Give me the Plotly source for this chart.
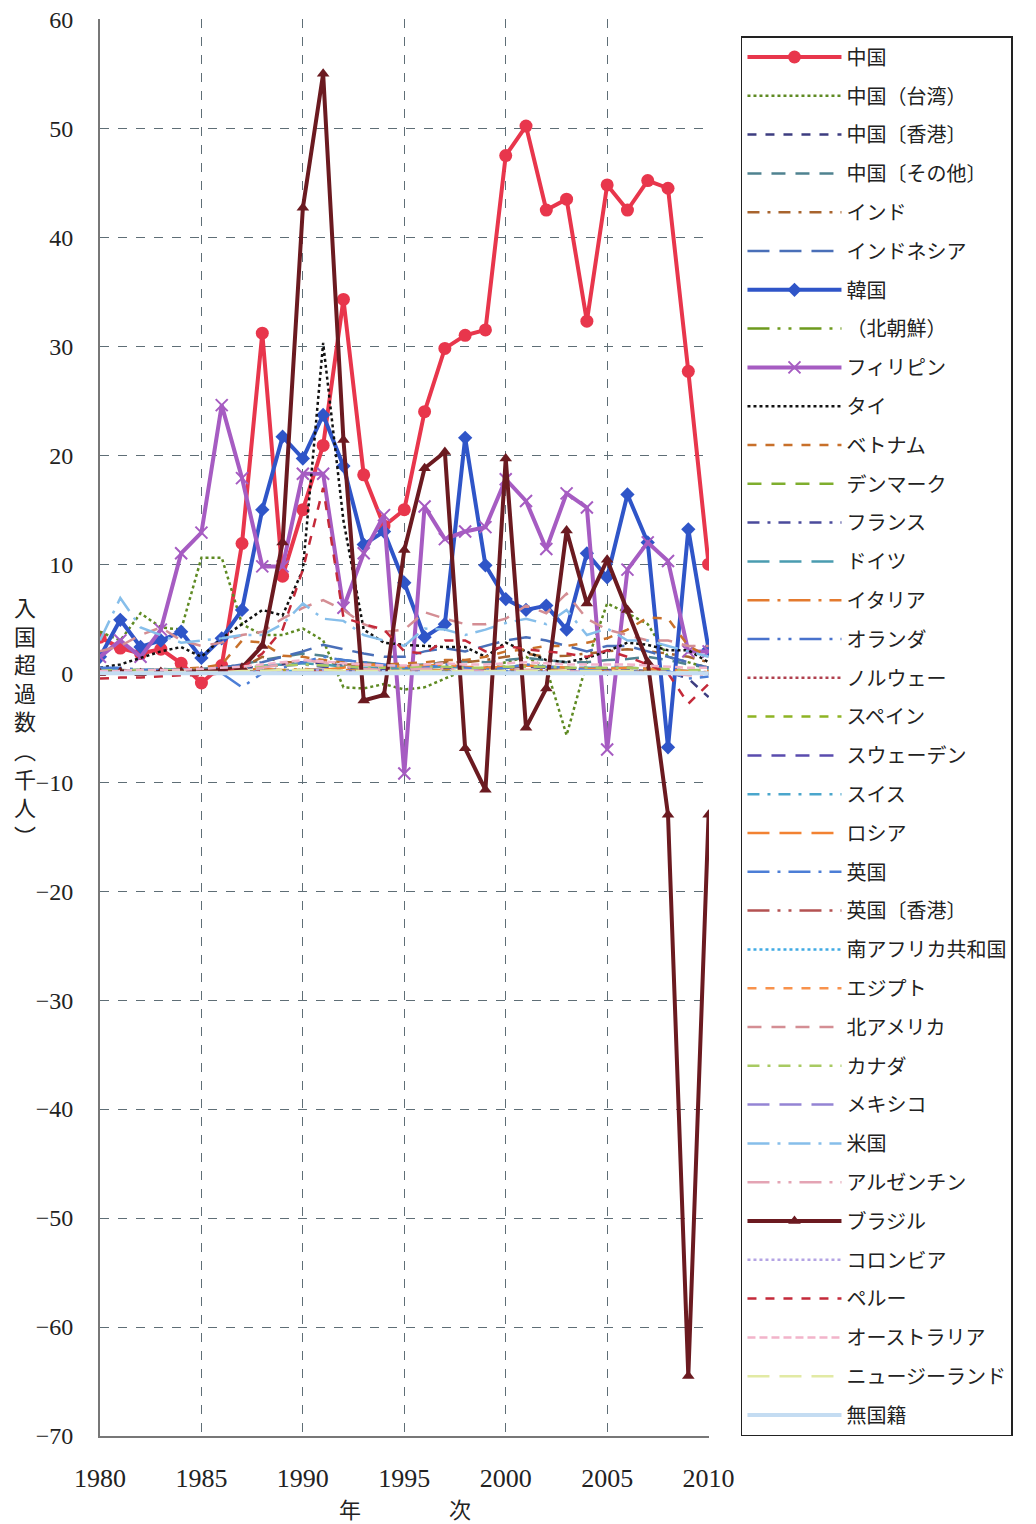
import plotly.graph_objects as go

years = list(range(1980, 2011))

names = ["中国", "中国（台湾）", "中国〔香港〕", "中国〔その他〕", "インド", "インドネシア", "韓国", "（北朝鮮）",
         "フィリピン", "タイ", "ベトナム", "デンマーク", "フランス", "ドイツ", "イタリア", "オランダ", "ノルウェー",
         "スペイン", "スウェーデン", "スイス", "ロシア", "英国", "英国〔香港〕", "南アフリカ共和国", "エジプト",
         "北アメリカ", "カナダ", "メキシコ", "米国", "アルゼンチン", "ブラジル", "コロンビア", "ペルー",
         "オーストラリア", "ニュージーランド", "無国籍"]

china = [3.3, 2.3, 1.8, 2.2, 0.9, -0.9, 0.7, 11.9, 31.2, 8.9, 15.0, 20.9, 34.3, 18.2, 13.5, 15.0, 24.0, 29.8, 31.0, 31.5,
         47.5, 50.2, 42.5, 43.5, 32.3, 44.8, 42.5, 45.2, 44.5, 27.7, 10.0]
taiwan = [3.8, 3.0, 5.5, 4.2, 4.0, 10.6, 10.6, 4.5, 3.5, 3.5, 4.1, 3.0, -1.3, -1.4, -1.0, -1.5, -1.3, -0.5, 0.3, 0.5,
          1.0, 1.5, 0.5, -5.7, 1.0, 6.4, 5.5, 4.5, 1.5, 1.0, 0.5]
hongkong = [0.3, 0.3, 0.2, 0.3, 0.2, 0.2, 0.3, 0.5, 0.6, 0.8, 1.0, 0.9, 0.7, 0.5, 0.4, 0.5, 0.6, 0.5, 0.4, 0.3,
            0.5, 0.6, 0.5, 0.4, 0.4, 0.3, 0.3, 0.2, 0.1, -0.5, -2.2]
china_other = [0.2, 0.2, 0.3, 0.3, 0.3, 0.4, 0.5, 0.8, 1.2, 1.5, 1.8, 1.6, 1.2, 1.0, 0.8, 0.7, 0.8, 1.0, 1.1, 1.0,
               1.2, 1.4, 1.2, 1.0, 1.0, 1.2, 1.3, 1.5, 1.2, 0.8, 0.5]
india = [0.1, 0.1, 0.1, 0.1, 0.2, 0.2, 0.3, 0.5, 1.5, 1.0, 1.0, 1.2, 0.8, 0.8, 0.7, 0.6, 0.8, 1.0, 1.0, 1.2,
         1.5, 1.8, 1.5, 1.6, 1.8, 2.0, 2.2, 2.0, 1.8, 1.5, 1.0]
indonesia = [0.2, 0.2, 0.3, 0.2, 0.3, 0.3, 0.5, 0.8, 1.0, 1.5, 2.0, 2.6, 2.2, 1.8, 1.5, 1.5, 2.0, 2.3, 2.0, 2.5,
             3.0, 3.3, 3.0, 2.5, 2.0, 2.5, 2.5, 2.0, 1.5, 1.0, 0.5]
korea = [1.5, 4.9, 2.4, 3.0, 3.8, 1.4, 3.2, 5.8, 15.0, 21.7, 19.7, 23.7, 19.0, 11.8, 13.0, 8.3, 3.3, 4.5, 21.6, 9.9,
         6.8, 5.8, 6.2, 4.0, 11.0, 8.8, 16.4, 12.0, -6.8, 13.2, 2.2]
north_korea = [0.1, 0.1, 0.1, 0.0, 0.1, 0.1, 0.1, 0.2, 0.2, 0.3, 0.3, 0.2, 0.2, 0.1, 0.1, 0.1, 0.1, 0.1, 0.0, 0.0,
               0.1, 0.1, 0.0, 0.0, 0.1, 0.0, 0.0, 0.0, 0.0, 0.0, 0.0]
philippines = [1.5, 3.0, 1.5, 4.0, 11.0, 12.9, 24.6, 17.9, 9.8, 9.8, 18.3, 18.3, 6.0, 11.0, 14.5, -9.2, 15.3, 12.3,
               13.0, 13.4, 17.8, 15.8, 11.4, 16.5, 15.2, -7.0, 9.5, 12.0, 10.3, 2.0, 2.0]
thailand = [0.5, 0.8, 1.4, 2.0, 2.4, 1.5, 3.2, 4.5, 5.8, 5.3, 9.5, 30.3, 14.0, 4.0, 2.8, 2.6, 2.5, 2.4, 2.4, 1.5,
            2.8, 2.0, 1.2, 1.0, 1.4, 2.0, 2.8, 2.6, 2.1, 2.1, 1.0]
vietnam = [0.2, 0.2, 0.3, 0.3, 0.4, 0.5, 0.8, 3.0, 2.8, 1.6, 1.5, 1.2, 1.0, 0.8, 0.8, 0.9, 1.0, 1.2, 1.2, 1.5,
           2.0, 2.2, 2.5, 2.5, 2.8, 3.2, 4.0, 5.1, 5.0, 2.5, 1.5]
denmark = [0.0, 0.0, 0.1, 0.0, 0.0, 0.1, 0.0, 0.1, 0.1, 0.1, 0.1, 0.1, 0.0, 0.0, 0.1, 0.0, 0.0, 0.1, 0.0, 0.0,
           0.1, 0.0, 0.0, 0.0, 0.1, 0.0, 0.0, 0.0, 0.0, 0.0, 0.0]
france = [0.2, 0.2, 0.2, 0.3, 0.2, 0.3, 0.4, 0.5, 0.6, 0.7, 0.8, 0.6, 0.5, 0.4, 0.4, 0.3, 0.4, 0.5, 0.4, 0.4,
          0.5, 0.6, 0.5, 0.5, 0.4, 0.4, 0.5, 0.4, 0.3, 0.2, 0.2]
germany = [0.3, 0.3, 0.3, 0.4, 0.3, 0.3, 0.4, 0.6, 0.7, 0.8, 0.9, 0.8, 0.6, 0.5, 0.5, 0.4, 0.5, 0.6, 0.5, 0.5,
           0.6, 0.7, 0.6, 0.5, 0.5, 0.5, 0.5, 0.4, 0.3, 0.2, 0.3]
italy = [0.1, 0.1, 0.1, 0.1, 0.1, 0.2, 0.2, 0.3, 0.4, 0.3, 0.4, 0.3, 0.3, 0.2, 0.2, 0.2, 0.3, 0.3, 0.3, 0.2,
         0.3, 0.3, 0.3, 0.2, 0.2, 0.2, 0.2, 0.1, 0.1, 0.1, 0.1]
netherlands = [0.1, 0.1, 0.1, 0.1, 0.1, 0.1, 0.1, 0.2, 0.2, 0.2, 0.3, 0.3, 0.2, 0.2, 0.2, 0.1, 0.2, 0.2, 0.2, 0.1,
               0.2, 0.2, 0.2, 0.1, 0.1, 0.1, 0.1, 0.1, 0.1, 0.0, 0.1]
norway = [0.0, 0.0, 0.0, 0.1, 0.0, 0.0, 0.1, 0.1, 0.1, 0.1, 0.1, 0.1, 0.1, 0.0, 0.0, 0.0, 0.1, 0.0, 0.0, 0.0,
          0.1, 0.0, 0.0, 0.0, 0.0, 0.0, 0.0, 0.0, 0.0, 0.0, 0.0]
spain = [0.0, 0.1, 0.1, 0.0, 0.1, 0.1, 0.1, 0.2, 0.2, 0.2, 0.3, 0.2, 0.2, 0.1, 0.1, 0.1, 0.2, 0.2, 0.1, 0.1,
         0.2, 0.2, 0.2, 0.1, 0.1, 0.1, 0.1, 0.1, 0.0, 0.0, 0.1]
sweden = [0.0, 0.0, 0.1, 0.0, 0.0, 0.1, 0.1, 0.1, 0.1, 0.2, 0.2, 0.1, 0.1, 0.1, 0.1, 0.0, 0.1, 0.1, 0.1, 0.0,
          0.1, 0.1, 0.1, 0.0, 0.0, 0.0, 0.1, 0.0, 0.0, 0.0, 0.0]
switzerland = [0.0, 0.1, 0.0, 0.1, 0.1, 0.1, 0.1, 0.1, 0.2, 0.2, 0.2, 0.2, 0.1, 0.1, 0.1, 0.1, 0.1, 0.1, 0.1, 0.1,
               0.1, 0.1, 0.1, 0.1, 0.0, 0.1, 0.1, 0.0, 0.0, 0.0, 0.0]
russia = [0.0, 0.0, 0.0, 0.0, 0.0, 0.0, 0.0, 0.1, 0.1, 0.1, 0.2, 0.3, 0.5, 0.8, 0.7, 0.6, 0.7, 0.8, 0.6, 0.5,
          0.6, 0.7, 0.6, 0.5, 0.4, 0.4, 0.5, 0.4, 0.3, 0.2, 0.2]
uk = [0.5, 0.5, 0.3, 0.3, 0.4, 0.2, 0.0, -1.3, 0.0, 0.5, 1.0, 1.5, 1.2, 1.0, 0.8, 0.5, 0.5, 0.8, 0.5, 0.3,
      0.5, 0.8, 0.6, 0.5, 0.3, 0.2, 0.2, 0.0, 0.2, -0.5, -0.3]
uk_hongkong = [0.1, 0.1, 0.1, 0.1, 0.1, 0.1, 0.1, 0.1, 0.2, 0.2, 0.2, 0.2, 0.1, 0.1, 0.1, 0.1, 0.1, 0.1, 0.0, 0.0,
               0.0, 0.0, 0.0, 0.0, 0.0, 0.0, 0.0, 0.0, 0.0, 0.0, 0.0]
south_africa = [0.0, 0.0, 0.0, 0.0, 0.0, 0.0, 0.0, 0.0, 0.1, 0.1, 0.1, 0.1, 0.1, 0.1, 0.1, 0.1, 0.1, 0.1, 0.1, 0.1,
                0.1, 0.1, 0.1, 0.1, 0.1, 0.1, 0.1, 0.1, 0.0, 0.0, 0.0]
egypt = [0.0, 0.0, 0.0, 0.0, 0.0, 0.1, 0.1, 0.1, 0.1, 0.1, 0.1, 0.1, 0.1, 0.1, 0.1, 0.1, 0.1, 0.1, 0.1, 0.1,
         0.1, 0.1, 0.1, 0.1, 0.1, 0.1, 0.1, 0.1, 0.1, 0.0, 0.0]
north_america = [2.0, 2.5, 3.5, 4.2, 3.0, 2.5, 2.8, 3.5, 3.8, 5.0, 6.0, 6.7, 5.8, 4.5, 3.8, 4.0, 5.6, 5.0, 4.5, 4.5,
                 5.0, 6.2, 5.5, 7.3, 5.0, 4.0, 3.5, 3.0, 3.0, 2.5, 2.5]
canada = [0.2, 0.3, 0.3, 0.3, 0.3, 0.3, 0.4, 0.5, 0.6, 0.7, 0.8, 0.7, 0.6, 0.5, 0.5, 0.5, 0.6, 0.6, 0.5, 0.5,
          0.6, 0.6, 0.6, 0.5, 0.5, 0.5, 0.5, 0.4, 0.4, 0.3, 0.3]
mexico = [0.0, 0.0, 0.0, 0.1, 0.0, 0.1, 0.1, 0.1, 0.1, 0.2, 0.2, 0.2, 0.1, 0.1, 0.1, 0.1, 0.1, 0.1, 0.1, 0.1,
          0.1, 0.1, 0.1, 0.1, 0.1, 0.1, 0.1, 0.0, 0.0, 0.0, 0.0]
usa = [3.0, 6.9, 4.2, 3.5, 2.8, 3.0, 3.2, 3.5, 3.5, 4.5, 6.4, 5.0, 4.8, 3.5, 3.0, 2.5, 4.1, 4.0, 3.5, 4.0,
       4.6, 5.0, 4.5, 5.8, 3.5, 4.1, 3.0, 3.0, 2.5, 2.0, 1.5]
argentina = [0.0, 0.0, 0.0, 0.0, 0.1, 0.1, 0.2, 0.3, 0.5, 0.8, 1.2, 1.0, 0.6, 0.4, 0.3, 0.3, 0.4, 0.4, 0.3, 0.2,
             0.2, 0.3, 0.2, 0.2, 0.1, 0.1, 0.1, 0.0, 0.0, -0.2, -0.1]
brazil = [0.0, 0.1, 0.0, 0.1, 0.1, 0.2, 0.3, 0.5, 2.5, 12.0, 42.7, 55.0, 21.4, -2.5, -2.0, 11.3, 18.8, 20.3, -6.9,
          -10.7, 19.7, -5.0, -1.4, 13.1, 6.4, 10.4, 5.8, 1.0, -13.0, -64.5, -13.0]
colombia = [0.0, 0.0, 0.0, 0.0, 0.0, 0.0, 0.0, 0.1, 0.1, 0.2, 0.3, 0.3, 0.2, 0.1, 0.1, 0.1, 0.1, 0.1, 0.1, 0.1,
            0.1, 0.1, 0.1, 0.1, 0.1, 0.1, 0.1, 0.0, 0.0, 0.0, 0.0]
peru = [-0.5, -0.4, -0.4, -0.3, -0.2, -0.2, 0.0, 0.5, 1.8, 4.0, 9.5, 17.0, 5.1, 4.5, 4.0, 2.0, 1.8, 3.0, 3.0, 2.0,
        2.5, 2.2, 2.0, 1.8, 1.5, 2.1, 1.5, 0.8, 0.0, -2.8, -1.0]
australia = [0.2, 0.2, 0.3, 0.3, 0.3, 0.4, 0.5, 0.6, 0.8, 1.0, 1.2, 1.1, 0.9, 0.8, 0.7, 0.7, 0.8, 0.9, 0.8, 0.8,
             0.9, 1.0, 0.9, 0.8, 0.8, 0.8, 0.8, 0.7, 0.6, 0.5, 0.5]
new_zealand = [0.0, 0.0, 0.1, 0.1, 0.1, 0.1, 0.1, 0.2, 0.2, 0.3, 0.3, 0.3, 0.2, 0.2, 0.2, 0.2, 0.2, 0.2, 0.2, 0.2,
               0.2, 0.2, 0.2, 0.2, 0.2, 0.2, 0.2, 0.1, 0.1, 0.1, 0.1]
stateless = [0.0, 0.0, 0.0, 0.0, 0.0, 0.0, 0.0, 0.0, 0.0, 0.0, 0.0, 0.0, 0.0, 0.0, 0.0, 0.0, 0.0, 0.0, 0.0, 0.0,
             0.0, 0.0, 0.0, 0.0, 0.0, 0.0, 0.0, 0.0, 0.0, 0.0, 0.0]

series = [china, taiwan, hongkong, china_other, india, indonesia, korea, north_korea, philippines, thailand,
          vietnam, denmark, france, germany, italy, netherlands, norway, spain, sweden, switzerland, russia, uk,
          uk_hongkong, south_africa, egypt, north_america, canada, mexico, usa, argentina, brazil, colombia, peru,
          australia, new_zealand, stateless]

# (color, dash, width, marker symbol or None, marker size)
styles = [
    ("#E8364C", "solid", 4, "circle", 13),
    ("#5E8A22", "dot", 2.5, None, 0),
    ("#3D3D80", "dash", 2.5, None, 0),
    ("#4F8290", "14px,10px", 2.5, None, 0),
    ("#A8642E", "12px,8px,3px,8px", 2.5, None, 0),
    ("#4A6FB8", "22px,10px", 2.5, None, 0),
    ("#2F55C8", "solid", 4, "diamond", 11),
    ("#6E9A1E", "22px,8px,3px,8px,3px,8px", 2.5, None, 0),
    ("#A65CC2", "solid", 4, "x-thin-open", 12),
    ("#111111", "dot", 2.5, None, 0),
    ("#C8702A", "dash", 2.5, None, 0),
    ("#7FAE2E", "14px,10px", 2.5, None, 0),
    ("#4B4B9C", "12px,8px,3px,8px", 2.5, None, 0),
    ("#4A9CB0", "22px,10px", 2.5, None, 0),
    ("#E47A2E", "22px,8px,3px,8px", 2.5, None, 0),
    ("#4872CC", "22px,8px,3px,8px,3px,8px", 2.5, None, 0),
    ("#B0404E", "dot", 2.5, None, 0),
    ("#8EB424", "dash", 2.5, None, 0),
    ("#5A4CAE", "14px,10px", 2.5, None, 0),
    ("#4AA6CC", "12px,8px,3px,8px", 2.5, None, 0),
    ("#F28232", "22px,10px", 2.5, None, 0),
    ("#4C7ED6", "22px,8px,3px,8px", 2.5, None, 0),
    ("#B45252", "22px,8px,3px,8px,3px,8px", 2.5, None, 0),
    ("#40AAE4", "dot", 2.5, None, 0),
    ("#F8924C", "dash", 2.5, None, 0),
    ("#D48E94", "14px,10px", 2.5, None, 0),
    ("#A8CA62", "12px,8px,3px,8px", 2.5, None, 0),
    ("#9484D4", "22px,10px", 2.5, None, 0),
    ("#86BEEA", "22px,8px,3px,8px", 2.5, None, 0),
    ("#E4A4B4", "22px,8px,3px,8px,3px,8px", 2.5, None, 0),
    ("#6B1A20", "solid", 4, "triangle-up", 11),
    ("#B4A4E4", "dot", 2.5, None, 0),
    ("#C42A3A", "dash", 2.5, None, 0),
    ("#F2B4CA", "8px,4px", 2.5, None, 0),
    ("#E2EAA4", "22px,10px", 2.5, None, 0),
    ("#C4DCF2", "solid", 4, None, 0),
]

fig = go.Figure()
for i, (name, vals, st) in enumerate(zip(names, series, styles)):
    color, dash, width, sym, msize = st
    kw = dict(x=years, y=vals, name=name, legendgroup=f"g{i}",
              line=dict(color=color, dash=dash, width=width))
    if sym:
        kw["mode"] = "lines+markers"
        if sym == "x-thin-open":
            kw["marker"] = dict(symbol=sym, size=msize, color=color, line=dict(color=color, width=2))
        else:
            kw["marker"] = dict(symbol=sym, size=msize, color=color)
    else:
        kw["mode"] = "lines"
    fig.add_trace(go.Scatter(**kw))

grid_color = "#5F6E76"
fig.update_layout(
    width=1028, height=1516,
    margin=dict(l=92, r=327, t=11, b=88, autoexpand=False),
    paper_bgcolor="white", plot_bgcolor="white",
    font=dict(family="Noto Sans CJK JP", size=18, color="#222"),
    legend=dict(x=1.0525, xanchor="left", y=0.988, yanchor="top",
                bordercolor="#222", borderwidth=1.5, bgcolor="white",
                font=dict(family="Noto Sans CJK JP", size=20, color="#222"),
                tracegroupgap=9.8, itemwidth=94),
    xaxis=dict(range=[1980, 2010.02], dtick=5, tick0=1980, showgrid=True, gridcolor=grid_color,
               griddash="dash", gridwidth=1.3, showline=True, linecolor="#777", linewidth=2,
               zeroline=False, ticks="", ticklabelstandoff=18, automargin=False,
               ticklabeloverflow="allow",
               tickfont=dict(family="Liberation Serif", size=26, color="#222")),
    yaxis=dict(range=[-70, 60.03], dtick=10, tick0=0, showgrid=True, gridcolor=grid_color,
               griddash="dash", gridwidth=1.3, showline=True, linecolor="#777", linewidth=2,
               zeroline=False, ticks="", ticklabelstandoff=20, automargin=False,
               ticklabeloverflow="allow",
               tickfont=dict(family="Liberation Serif", size=24, color="#222")),
    annotations=[
        dict(text="入<br>国<br>超<br>過<br>数<br>︵<br>千<br>人<br>︶", xref="paper", yref="paper",
             x=-0.123, y=0.505, xanchor="center", yanchor="middle", showarrow=False,
             font=dict(family="Noto Sans CJK JP", size=22, color="#222")),
        dict(text="年　　　　次", xref="paper", yref="paper", x=0.5, y=-0.0508,
             xanchor="center", yanchor="middle", showarrow=False,
             font=dict(family="Noto Sans CJK JP", size=22, color="#222")),
    ],
)

fig.write_html("out.html")
